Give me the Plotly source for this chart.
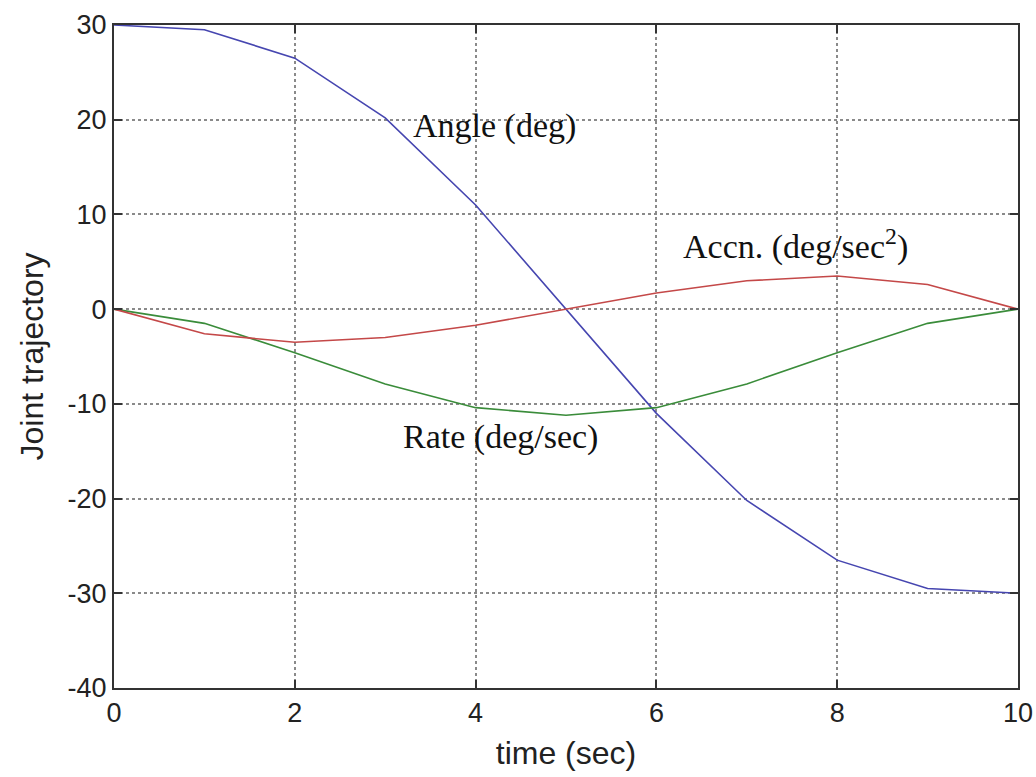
import plotly.graph_objects as go

# Data
time_s = [0, 1, 2, 3, 4, 5, 6, 7, 8, 9, 10]
angle_deg = [30, 29.5, 26.5, 20.2, 11.0, 0.0, -11.0, -20.2, -26.5, -29.5, -30]
rate_deg_s = [0, -1.5, -4.6, -7.9, -10.4, -11.2, -10.4, -7.9, -4.6, -1.5, 0]
accn_deg_s2 = [0, -2.6, -3.5, -3.0, -1.7, 0.0, 1.7, 3.0, 3.5, 2.6, 0]

x_ticks = [0, 2, 4, 6, 8, 10]
x_tick_labels = ["0", "2", "4", "6", "8", "10"]
y_ticks = [-40, -30, -20, -10, 0, 10, 20, 30]
y_tick_labels = ["-40", "-30", "-20", "-10", "0", "10", "20", "30"]

fig = go.Figure()
fig.add_trace(go.Scatter(x=time_s, y=angle_deg, mode="lines",
                         line=dict(color="#4646b0", width=1.6), name="Angle"))
fig.add_trace(go.Scatter(x=time_s, y=rate_deg_s, mode="lines",
                         line=dict(color="#3a8c3a", width=1.6), name="Rate"))
fig.add_trace(go.Scatter(x=time_s, y=accn_deg_s2, mode="lines",
                         line=dict(color="#c44848", width=1.6), name="Accn"))

serif = dict(family="Liberation Serif, Times New Roman, serif", size=34, color="#111111")
fig.add_annotation(x=3.28, y=19.3, text="Angle (deg)", showarrow=False,
                   xanchor="left", yanchor="middle", font=serif)
fig.add_annotation(x=6.27, y=6.8, text="Accn. (deg/sec<sup>2</sup>)", showarrow=False,
                   xanchor="left", yanchor="middle", font=serif)
fig.add_annotation(x=3.18, y=-13.5, text="Rate (deg/sec)", showarrow=False,
                   xanchor="left", yanchor="middle", font=serif)

axis_common = dict(
    showline=True, linecolor="#333333", linewidth=2, mirror="ticks",
    ticks="inside", ticklen=8, tickcolor="#333333", tickwidth=2,
    showgrid=True, gridcolor="#8a8a8a", gridwidth=1.5, griddash="dot",
    zeroline=False, ticklabeloverflow="allow", automargin=False,
    tickfont=dict(family="Liberation Sans, Arial, sans-serif", size=27, color="#222222"),
)

fig.update_layout(
    width=1036, height=777,
    margin=dict(l=114, r=18, t=25, b=89),
    paper_bgcolor="white", plot_bgcolor="white",
    showlegend=False,
    xaxis=dict(range=[-0.0001, 10.0001], tickmode="array", tickvals=x_ticks, ticktext=x_tick_labels,
               title=dict(text="time (sec)", standoff=14,
                          font=dict(family="Liberation Sans, Arial, sans-serif", size=32, color="#222222")),
               **axis_common),
    yaxis=dict(range=[-40, 30], tickmode="array", tickvals=y_ticks, ticktext=y_tick_labels,
               title=dict(text="Joint trajectory", standoff=14,
                          font=dict(family="Liberation Sans, Arial, sans-serif", size=32, color="#222222")),
               **axis_common),
)

fig.write_html("out.html")
